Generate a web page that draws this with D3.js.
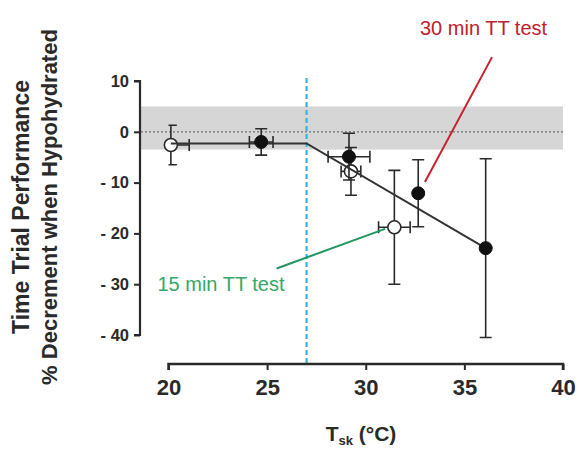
<!DOCTYPE html>
<html><head><meta charset="utf-8">
<script src="https://cdn.jsdelivr.net/npm/d3@7"></script>
<style>body{margin:0;background:#fff}svg{display:block}text{font-family:"Liberation Sans",Arial,sans-serif}</style>
</head><body><div id="chart"></div>
<script>
// ---- data ----
const openX = [20.12, 29.25, 31.45];
const openY = [-2.6, -7.8, -18.8];
const openYErr = [3.9, 4.7, 11.2];
const openXErr = [0.93, 0.5, 0.8];

const filledX = [24.7, 29.15, 32.66, 36.08];
const filledY = [-2.0, -4.9, -12.1, -22.9];
const filledYErr = [2.6, 4.6, 6.6, 17.6];
const filledXErr = [0.6, 1.06, 0, 0];

const fitX = [20.12, 27, 36.08];
const fitY = [-2.3, -2.3, -22.9];

const bandRange = [-3.5, 5];
const threshold = 27;

const xTicks = [20, 25, 30, 35, 40];
const yTicks = [10, 0, -10, -20, -30, -40];

const redLabel = "30 min TT test";
const greenLabel = "15 min TT test";
const redText = [32.75, 19.05];
const redLine = [[36.4, 14.7], [33.0, -9.9]];
const greenText = [19.44, -31.3];
const greenLine = [[25.48, -26.9], [30.98, -19.1]];

// ---- drawing ----
const W = 581, H = 450;
const svg = d3.select("#chart").append("svg").attr("width", W).attr("height", H);
const x = d3.scaleLinear().domain([20, 40]).range([168.5, 563]);
const y = d3.scaleLinear().domain([-40, 10]).range([335, 81]);
const axisX = 140, axisY = 364;
const ink = "#2a2a2a";

svg.append("defs").append("clipPath").attr("id", "clip")
  .append("rect").attr("x", x(20)).attr("y", 0).attr("width", x(40) - x(20)).attr("height", H);

// band
svg.append("rect").attr("x", axisX + 1).attr("y", y(bandRange[1]))
  .attr("width", x(40) - axisX - 1).attr("height", y(bandRange[0]) - y(bandRange[1]))
  .attr("fill", "#d6d6d6");
svg.append("line").attr("x1", axisX + 1).attr("x2", x(40)).attr("y1", y(0)).attr("y2", y(0))
  .attr("stroke", "#707070").attr("stroke-width", 1.2).attr("stroke-dasharray", "2,2");

// threshold dashed line
svg.append("line").attr("x1", x(threshold)).attr("x2", x(threshold))
  .attr("y1", 78).attr("y2", axisY)
  .attr("stroke", "#36b5e0").attr("stroke-width", 2.2).attr("stroke-dasharray", "5,3");

// y axis
const yAxis = svg.append("g").attr("transform", `translate(${axisX},0)`)
  .call(d3.axisLeft(y).tickValues(yTicks).tickSize(6).tickPadding(5)
    .tickFormat(d => d < 0 ? "- " + Math.abs(d) : d));
yAxis.select(".domain").attr("d", `M-6,${y(10)}H0V${y(-40)}H-6`).attr("stroke", ink).attr("stroke-width", 2.2);
yAxis.selectAll(".tick line").attr("stroke", ink).attr("stroke-width", 2);
yAxis.selectAll(".tick text").attr("font-size", 16.5).attr("font-weight", "bold").attr("fill", ink)
  .attr("font-family", "Liberation Sans, Arial, sans-serif");

// x axis
const xAxis = svg.append("g").attr("transform", `translate(0,${axisY})`)
  .call(d3.axisBottom(x).tickValues(xTicks).tickSize(6).tickPadding(9));
xAxis.select(".domain").attr("d", `M${x(20)},6V0H${x(40)}V6`).attr("stroke", ink).attr("stroke-width", 2.5);
xAxis.selectAll(".tick line").attr("stroke", ink).attr("stroke-width", 2);
xAxis.selectAll(".tick text").attr("font-size", 22).attr("font-weight", "bold").attr("fill", ink)
  .attr("font-family", "Liberation Sans, Arial, sans-serif");

// titles
const yt = svg.append("text").attr("transform", "translate(29,207) rotate(-90)")
  .attr("text-anchor", "middle").attr("font-weight", "bold").attr("font-size", 22).attr("fill", ink);
yt.append("tspan").attr("x", 0).attr("dy", 0).attr("font-size", 23).text("Time Trial Performance");
yt.append("tspan").attr("x", 0).attr("dy", 28).text("% Decrement when Hypohydrated");

const xt = svg.append("text").attr("x", 361).attr("y", 441).attr("text-anchor", "middle")
  .attr("font-weight", "bold").attr("font-size", 21).attr("fill", ink);
xt.append("tspan").text("T");
xt.append("tspan").attr("font-size", 13).attr("dy", 4).text("sk");
xt.append("tspan").attr("dy", -4).text(" (°C)");

// error bars helper
function errorBars(g, xs, ys, yErr, xErr) {
  const cap = 6;
  xs.forEach((xv, i) => {
    const cx = x(xv), cy = y(ys[i]);
    if (yErr[i] > 0) {
      const t = y(ys[i] + yErr[i]), b = y(ys[i] - yErr[i]);
      g.append("path").attr("d", `M${cx},${t}V${b}M${cx - cap},${t}H${cx + cap}M${cx - cap},${b}H${cx + cap}`)
        .attr("stroke", ink).attr("stroke-width", 1.6).attr("fill", "none");
    }
    if (xErr[i] > 0) {
      const l = x(xv - xErr[i]), r = x(xv + xErr[i]);
      g.append("path").attr("d", `M${l},${cy}H${r}M${l},${cy - cap}V${cy + cap}M${r},${cy - cap}V${cy + cap}`)
        .attr("stroke", ink).attr("stroke-width", 1.6).attr("fill", "none");
    }
  });
}

const gOpenErr = svg.append("g").attr("clip-path", "url(#clip)");
errorBars(gOpenErr, openX, openY, openYErr, openXErr);
svg.append("g").selectAll("circle").data(openX).join("circle")
  .attr("cx", d => x(d)).attr("cy", (d, i) => y(openY[i])).attr("r", 6.5)
  .attr("fill", "#fff").attr("stroke", ink).attr("stroke-width", 1.6);

// fit line
svg.append("path").datum(fitX.map((d, i) => [d, fitY[i]]))
  .attr("d", d3.line().x(d => x(d[0])).y(d => y(d[1])))
  .attr("fill", "none").attr("stroke", "#333").attr("stroke-width", 2);

const gFill = svg.append("g");
errorBars(gFill, filledX, filledY, filledYErr, filledXErr);
gFill.selectAll("circle").data(filledX).join("circle")
  .attr("cx", d => x(d)).attr("cy", (d, i) => y(filledY[i])).attr("r", 6.5)
  .attr("fill", "#111").attr("stroke", "#111").attr("stroke-width", 1);

// annotations
svg.append("line").attr("x1", x(redLine[0][0])).attr("y1", y(redLine[0][1]))
  .attr("x2", x(redLine[1][0])).attr("y2", y(redLine[1][1]))
  .attr("stroke", "#c8202e").attr("stroke-width", 2);
svg.append("text").attr("x", x(redText[0])).attr("y", y(redText[1]))
  .attr("font-size", 20).attr("fill", "#c0202c").text(redLabel);

svg.append("line").attr("x1", x(greenLine[0][0])).attr("y1", y(greenLine[0][1]))
  .attr("x2", x(greenLine[1][0])).attr("y2", y(greenLine[1][1]))
  .attr("stroke", "#23955e").attr("stroke-width", 2);
svg.append("text").attr("x", x(greenText[0])).attr("y", y(greenText[1]))
  .attr("font-size", 20).attr("fill", "#35a868").text(greenLabel);
</script></body></html>
